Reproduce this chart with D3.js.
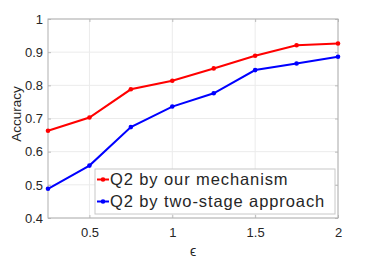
<!DOCTYPE html>
<html>
<head>
<meta charset="utf-8">
<script src="https://cdn.jsdelivr.net/npm/d3@7"></script>
<style>
  body { margin: 0; background: #fff; }
  text { font-family: "Liberation Sans", Arial, sans-serif; fill: #262626; }
</style>
</head>
<body>
<div id="chart"></div>
<script>
// epsilon values on the x axis
const epsilons = [0.25, 0.5, 0.75, 1, 1.25, 1.5, 1.75, 2];
// accuracy of each approach
const ourMechanism = [0.663, 0.703, 0.788, 0.814, 0.851, 0.889, 0.921, 0.926];
const twoStage = [0.488, 0.558, 0.674, 0.736, 0.776, 0.846, 0.866, 0.886];
const xTicks = [0.5, 1, 1.5, 2];
const yTicks = [0.4, 0.5, 0.6, 0.7, 0.8, 0.9, 1];
const seriesNames = ["Q2 by our mechanism", "Q2 by two-stage approach"];

const margin = {top: 19, right: 36, bottom: 44, left: 48},
      width = 374 - margin.left - margin.right,
      height = 262 - margin.top - margin.bottom;

const svg = d3.select("#chart").append("svg")
    .attr("width", 374)
    .attr("height", 262)
    .append("g")
    .attr("transform", `translate(${margin.left},${margin.top})`);

const x = d3.scaleLinear().domain([0.25, 2]).range([0, width]);
const y = d3.scaleLinear().domain([0.4, 1]).range([height, 0]);

// grid lines
svg.append("g").selectAll("line.gx")
    .data(xTicks).enter().append("line")
    .attr("x1", d => x(d)).attr("x2", d => x(d))
    .attr("y1", 0).attr("y2", height)
    .attr("stroke", "#ebebeb").attr("stroke-width", 1);
svg.append("g").selectAll("line.gy")
    .data(yTicks).enter().append("line")
    .attr("x1", 0).attr("x2", width)
    .attr("y1", d => y(d)).attr("y2", d => y(d))
    .attr("stroke", "#ebebeb").attr("stroke-width", 1);

// axes
svg.append("g")
    .attr("transform", `translate(0,${height})`)
    .call(d3.axisBottom(x).tickValues(xTicks).tickFormat(d3.format("")).tickSizeInner(-3).tickSizeOuter(0).tickPadding(10));
svg.append("g")
    .call(d3.axisLeft(y).tickValues(yTicks).tickFormat(d3.format("")).tickSizeInner(-3).tickSizeOuter(0).tickPadding(5));
// right and top side ticks
svg.append("g")
    .attr("transform", `translate(${width},0)`)
    .call(d3.axisRight(y).tickValues(yTicks).tickFormat("").tickSizeInner(-3).tickSizeOuter(0));
svg.append("g")
    .call(d3.axisTop(x).tickValues(xTicks).tickFormat("").tickSizeInner(-3).tickSizeOuter(0));

svg.selectAll(".domain").remove();
svg.selectAll(".tick line").attr("stroke", "#bcbcbc");
svg.selectAll(".tick text").style("font-size", "13px").style("fill", "#262626");

// box
svg.append("rect")
    .attr("x", 0).attr("y", 0)
    .attr("width", width).attr("height", height)
    .attr("fill", "none").attr("stroke", "#b0b0b0").attr("stroke-width", 1);

// lines
const line = d3.line().x((d, i) => x(epsilons[i])).y(d => y(d));
const series = [
    {values: ourMechanism, color: "#ff0000"},
    {values: twoStage, color: "#0000ff"}
];
series.forEach(s => {
    svg.append("path")
        .datum(s.values)
        .attr("d", line)
        .attr("fill", "none")
        .attr("stroke", s.color)
        .attr("stroke-width", 2);
    svg.selectAll(null)
        .data(s.values).enter().append("circle")
        .attr("cx", (d, i) => x(epsilons[i]))
        .attr("cy", d => y(d))
        .attr("r", 2.3)
        .attr("fill", s.color);
});

// axis labels
svg.append("text")
    .attr("text-anchor", "middle")
    .attr("transform", "rotate(-90)")
    .attr("x", -95)
    .attr("y", -27)
    .style("font-size", "13.5px")
    .text("Accuracy");

svg.append("text")
    .attr("text-anchor", "middle")
    .attr("x", width / 2)
    .attr("y", height + 38)
    .style("font-size", "14px")
    .text("ϵ");

// legend
const legend = svg.append("g").attr("transform", `translate(${95 - margin.left},${169 - margin.top})`);
legend.append("rect")
    .attr("width", 240).attr("height", 45)
    .attr("fill", "#fff").attr("stroke", "#c8c8c8").attr("stroke-width", 1);
seriesNames.forEach((name, i) => {
    const g = legend.append("g").attr("transform", `translate(0,${10.5 + i * 22})`);
    g.append("line")
        .attr("x1", 2).attr("x2", 14).attr("y1", 0).attr("y2", 0)
        .attr("stroke", series[i].color).attr("stroke-width", 2);
    g.append("circle").attr("cx", 8).attr("cy", 0).attr("r", 2.3).attr("fill", series[i].color);
    g.append("text")
        .attr("x", 15).attr("y", 0).attr("dy", "0.35em")
        .style("font-size", "16.5px")
        .style("letter-spacing", "0.9px")
        .text(name);
});
</script>
</body>
</html>
